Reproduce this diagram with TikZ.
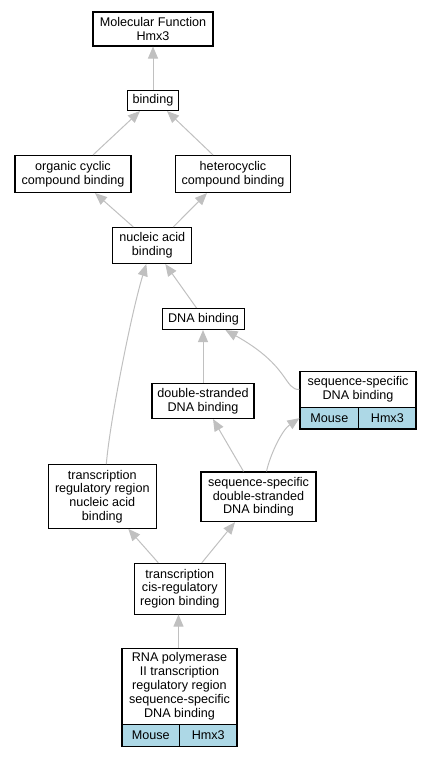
\documentclass[tikz,border=0pt]{standalone}
\usepackage{fontspec}
\setmainfont{Liberation Sans}
\usetikzlibrary{arrows.meta}
\definecolor{edgegray}{RGB}{192,192,192}
\definecolor{cellblue}{RGB}{173,216,230}
\begin{document}
\begin{tikzpicture}[x=1pt,y=-1pt,
 box/.style={draw=black,line width=1.1pt,fill=white,inner sep=0pt,align=center,font=\fontsize{12.6}{13.8}\selectfont},
 cell/.style={box,fill=cellblue},
 edge/.style={draw=edgegray,line width=1pt,-{Triangle[length=12pt,width=10pt]}}]
\useasboundingbox (0,0) rectangle (431,757);
% nodes
\node[box,minimum width=120pt,minimum height=34pt] (mf) at (153,29) {Molecular Function\\Hmx3};
\node[box,minimum width=51pt,minimum height=20pt] (bind) at (153,100.5) {binding};
\node[box,minimum width=116pt,minimum height=37pt] (org) at (73,174) {organic cyclic\\compound binding};
\node[box,minimum width=115pt,minimum height=37pt] (het) at (233,174) {heterocyclic\\compound binding};
\node[box,minimum width=79pt,minimum height=36pt] (nuc) at (152.3,245.5) {nucleic acid\\binding};
\node[box,minimum width=82pt,minimum height=21pt] (dna) at (203.5,319) {DNA binding};
\node[box,minimum width=102pt,minimum height=35pt] (ds) at (203,401) {double-stranded\\DNA binding};
\node[box,minimum width=116pt,minimum height=35.6pt] (seq) at (358,389.5) {sequence-specific\\DNA binding};
\node[cell,minimum width=58.7pt,minimum height=21.7pt] (seqm) at (329.35,418.15) {Mouse};
\node[cell,minimum width=57.3pt,minimum height=21.7pt] (seqh) at (387.35,418.15) {Hmx3};
\node[box,minimum width=108pt,minimum height=63.6pt] (treg) at (102.3,496.5) {transcription\\regulatory region\\nucleic acid\\binding};
\node[box,minimum width=115pt,minimum height=49.7pt] (sds) at (258.5,496.8) {sequence-specific\\double-stranded\\DNA binding};
\node[box,minimum width=91pt,minimum height=50.7pt] (cis) at (179.8,588.7) {transcription\\cis-regulatory\\region binding};
\node[box,minimum width=115pt,minimum height=76.3pt] (rna) at (179.5,686.2) {RNA polymerase\\II transcription\\regulatory region\\sequence-specific\\DNA binding};
\node[cell,minimum width=57.5pt,minimum height=21.7pt] (rnam) at (150.75,735.2) {Mouse};
\node[cell,minimum width=57.5pt,minimum height=21.7pt] (rnah) at (208.25,735.2) {Hmx3};
% edges
\draw[edge] (bind.north) -- (mf.south);
\draw[edge] ([xshift=20pt]org.north) -- ([xshift=-13pt]bind.south);
\draw[edge] ([xshift=-20pt]het.north) -- ([xshift=14pt]bind.south);
\draw[edge] ([xshift=-19pt]nuc.north) -- ([xshift=22pt]org.south);
\draw[edge] ([xshift=21pt]nuc.north) -- ([xshift=-26pt]het.south);
\draw[edge] ([xshift=-7pt]dna.north) -- ([xshift=13pt]nuc.south);
\draw[edge] ([xshift=4pt]treg.north) .. controls (110,420) and (132,310) .. ([xshift=-6pt]nuc.south);
\draw[edge] (ds.north) -- (ds.north |- dna.south);
\draw[edge] (seq.west) .. controls (284,390) and (290,366) .. ([xshift=22pt]dna.south);
\draw[edge] ([xshift=-15pt]sds.north) -- ([xshift=10pt]ds.south);
\draw[edge] ([xshift=8pt]sds.north) .. controls (270,455) and (282,430) .. (seqm.west);
\draw[edge] ([xshift=-21.5pt]cis.north) -- ([xshift=26pt]treg.south);
\draw[edge] ([xshift=22pt]cis.north) -- ([xshift=-23.5pt]sds.south);
\draw[edge] ([xshift=-1pt]rna.north) -- ([xshift=-1pt]rna.north |- cis.south);
\end{tikzpicture}
\end{document}
